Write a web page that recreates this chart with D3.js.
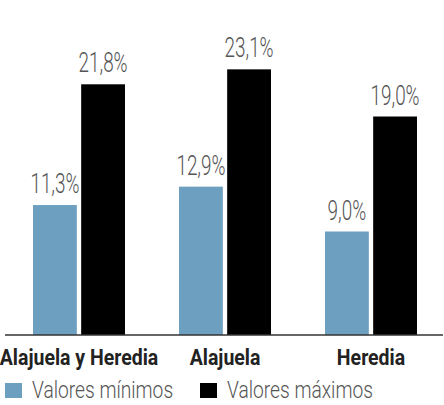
<!DOCTYPE html>
<html>
<head>
<meta charset="utf-8">
<script src="https://cdn.jsdelivr.net/npm/d3@7"></script>
<style>
  body { margin: 0; background: #fff; }
  svg { display: block; }
</style>
</head>
<body>
<div id="chart"></div>
<script>
var width = 444, height = 405;

var categories = ["Alajuela y Heredia", "Alajuela", "Heredia"];
var series = ["Valores mínimos", "Valores máximos"];
var minValues = [11.3, 12.9, 9.0];
var maxValues = [21.8, 23.1, 19.0];
var colors = ["#6d9fc0", "#000000"];

var data = categories.map(function(c, i) {
    return { cat: c, values: [minValues[i], maxValues[i]] };
});

var svg = d3.select("#chart").append("svg")
    .attr("width", width)
    .attr("height", height);

var x0 = d3.scaleBand()
    .domain(categories)
    .range([6, 444])
    .paddingInner(0.37)
    .paddingOuter(0.185);

var x1 = d3.scaleBand()
    .domain([0, 1])
    .range([0, x0.bandwidth()])
    .paddingInner(0.09);

var y = d3.scaleLinear()
    .domain([0, 25])
    .range([335, 47.5]);

// squeeze text to look like a condensed face
function condense(sel, k) {
    sel.each(function() {
        var w = this.getComputedTextLength();
        d3.select(this).attr("textLength", w * k).attr("lengthAdjust", "spacingAndGlyphs");
    });
}

var groups = svg.selectAll(".group")
    .data(data)
    .enter().append("g")
    .attr("class", "group")
    .attr("transform", function(d) { return "translate(" + x0(d.cat) + ",0)"; });

groups.selectAll("rect")
    .data(function(d) { return d.values; })
    .enter().append("rect")
    .attr("x", function(d, i) { return x1(i); })
    .attr("width", x1.bandwidth())
    .attr("y", function(d) { return y(d); })
    .attr("height", function(d) { return y(0) - y(d); })
    .style("fill", function(d, i) { return colors[i]; });

groups.selectAll(".val")
    .data(function(d) { return d.values; })
    .enter().append("text")
    .attr("class", "val")
    .attr("x", function(d, i) { return x1(i) + x1.bandwidth() / 2; })
    .attr("y", function(d) { return y(d) - 12; })
    .attr("text-anchor", "middle")
    .style("font-family", "Roboto, sans-serif")
    .style("font-weight", 300)
    .style("font-size", "27px")
    .style("fill", "#555")
    .text(function(d) { return d3.format(".1f")(d).replace(".", ",") + "%"; })
    .call(condense, 0.7);

// baseline
svg.append("line")
    .attr("x1", 5).attr("x2", 443)
    .attr("y1", y(0)).attr("y2", y(0))
    .style("stroke", "#333")
    .style("stroke-width", 1.5);

// category labels
var xAxis = svg.append("g")
    .attr("transform", "translate(0," + y(0) + ")")
    .call(d3.axisBottom(x0).tickSize(0).tickPadding(0));
xAxis.select(".domain").remove();
xAxis.selectAll("text")
    .attr("dy", null)
    .attr("y", 30)
    .style("font-family", "Roboto, sans-serif")
    .style("font-weight", 700)
    .style("font-size", "22px")
    .style("fill", "#222")
    .call(condense, 0.885);

// legend
var legendX = [5, 200];
var legend = svg.selectAll(".legend")
    .data(series)
    .enter().append("g")
    .attr("class", "legend")
    .attr("transform", function(d, i) { return "translate(" + legendX[i] + ",383)"; });

legend.append("rect")
    .attr("width", 17)
    .attr("height", 15)
    .style("fill", function(d, i) { return colors[i]; });

legend.append("text")
    .attr("x", 27)
    .attr("y", 15)
    .style("font-family", "Roboto, sans-serif")
    .style("font-weight", 300)
    .style("font-size", "24px")
    .style("fill", "#555")
    .text(function(d) { return d; })
    .call(condense, 0.8);
</script>
</body>
</html>
